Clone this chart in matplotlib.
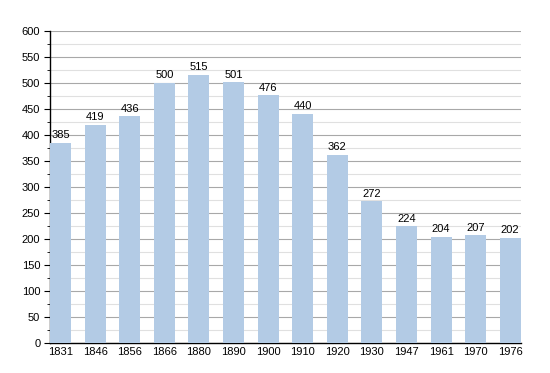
import matplotlib
matplotlib.use("Agg")
import matplotlib.pyplot as plt
from matplotlib.ticker import MultipleLocator

plt.rcParams['font.family'] = ['Liberation Sans', 'DejaVu Sans']

years = ["1831", "1846", "1856", "1866", "1880", "1890", "1900",
         "1910", "1920", "1930", "1947", "1961", "1970", "1976"]
population = [385, 419, 436, 500, 515, 501, 476, 440, 362, 272, 224, 204, 207, 202]

fig = plt.figure(figsize=(5.5, 3.73), dpi=100)
ax = fig.add_axes([0.0909, 0.0804, 0.856, 0.837])

x = range(len(years))
bars = ax.bar(x, population, width=0.61, color="#b3cbe5", zorder=3)

for xi, v in zip(x, population):
    ax.text(xi, v + 5, str(v), ha="center", va="bottom", fontsize=8, zorder=4)

ax.set_xlim(-0.305, len(years) - 1 + 0.305)
ax.set_ylim(0, 600)
ax.set_xticks(list(x))
ax.set_xticklabels(years)
ax.yaxis.set_major_locator(MultipleLocator(50))
ax.yaxis.set_minor_locator(MultipleLocator(25))
ax.grid(axis="y", which="major", color="#a8a8a8", linewidth=0.8, zorder=1)
ax.grid(axis="y", which="minor", color="#e0e0e0", linewidth=0.8, zorder=1)

for s in ["top", "right"]:
    ax.spines[s].set_visible(False)
ax.spines["left"].set_linewidth(1.0)
ax.spines["bottom"].set_linewidth(1.0)

ax.tick_params(axis="y", which="major", length=4, labelsize=8, pad=3)
ax.tick_params(axis="y", which="minor", length=2)
ax.tick_params(axis="x", length=0, labelsize=8, pad=3)

fig.savefig("out.png", dpi=100)
